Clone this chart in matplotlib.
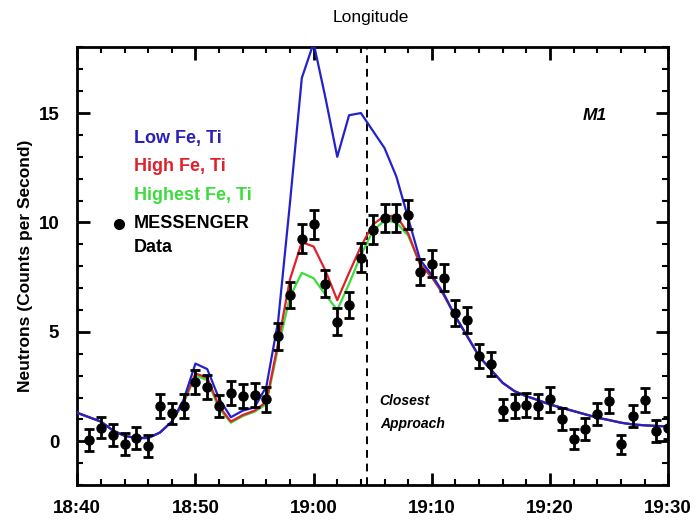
import numpy as np
import matplotlib.pyplot as plt
from matplotlib.ticker import MultipleLocator

plt.rcParams['font.family'] = ['Liberation Sans', 'DejaVu Sans']

# time in minutes after 18:40
t_data = np.arange(1, 51)
counts = [0.05, 0.63, 0.27, -0.12, 0.15, -0.22, 1.61, 1.27, 1.61, 2.72,
          2.49, 1.61, 2.21, 2.09, 2.12, 1.91, 4.79, 6.68, 9.26, 9.91,
          7.21, 5.47, 6.23, 8.39, 9.67, 10.21, 10.21, 10.36, 7.74, 8.12,
          7.48, 5.85, 5.55, 3.90, 3.55, 1.45, 1.61, 1.64, 1.61, 1.91,
          1.03, 0.12, 0.55, 1.23, 1.83, -0.14, 1.15, 1.88, 0.47, 0.60]
errors = [0.5, 0.5, 0.5, 0.5, 0.5, 0.5, 0.55, 0.5, 0.55, 0.55,
          0.55, 0.5, 0.55, 0.55, 0.55, 0.55, 0.6, 0.6, 0.65, 0.65,
          0.6, 0.6, 0.6, 0.65, 0.65, 0.65, 0.65, 0.65, 0.6, 0.6,
          0.6, 0.6, 0.6, 0.55, 0.55, 0.5, 0.55, 0.55, 0.55, 0.55,
          0.5, 0.45, 0.5, 0.5, 0.55, 0.45, 0.5, 0.55, 0.5, 0.5]

t_model = np.arange(0, 51)
low_fe = [1.3, 1.1, 0.9, 0.5, 0.25, 0.15, 0.15, 0.4, 0.9, 1.9,
          3.55, 3.3, 1.95, 1.1, 1.4, 1.55, 2.5, 5.5, 10.9, 16.6,
          18.2, 15.7, 13.0, 14.9, 15.0, 14.2, 13.4, 12.1, 10.2, 8.3,
          7.6, 6.76, 5.7, 4.8, 3.88, 3.27, 2.67, 2.29, 2.06, 1.88,
          1.68, 1.53, 1.38, 1.23, 1.08, 0.97, 0.85, 0.77, 0.73, 0.70, 0.68]
high_fe = [1.3, 1.1, 0.9, 0.5, 0.25, 0.15, 0.15, 0.4, 0.9, 1.8,
           3.1, 2.9, 1.6, 0.9, 1.2, 1.4, 1.8, 4.5, 7.4, 9.1,
           8.9, 7.8, 6.45, 7.7, 8.9, 9.9, 10.3, 10.3, 9.5, 8.1,
           7.5, 6.7, 5.7, 4.8, 3.88, 3.27, 2.67, 2.29, 2.06, 1.88,
           1.68, 1.53, 1.38, 1.23, 1.08, 0.97, 0.85, 0.77, 0.73, 0.70, 0.68]
highest_fe = [1.3, 1.1, 0.9, 0.5, 0.25, 0.15, 0.15, 0.4, 0.9, 1.75,
              3.0, 2.8, 1.5, 0.85, 1.15, 1.35, 1.7, 4.3, 6.6, 7.7,
              7.45, 6.7, 6.0, 7.2, 8.5, 9.6, 10.1, 10.0, 9.4, 8.1,
              7.5, 6.7, 5.7, 4.8, 3.88, 3.27, 2.67, 2.29, 2.06, 1.88,
              1.68, 1.53, 1.38, 1.23, 1.08, 0.97, 0.85, 0.77, 0.73, 0.70, 0.68]

tick_pos = [0, 10, 20, 30, 40, 50]
tick_labels = ['18:40', '18:50', '19:00', '19:10', '19:20', '19:30']
closest_approach = 24.5

blue = '#2222cc'
red = '#e0202a'
green = '#3ddc3d'

fig = plt.figure(figsize=(6.96, 5.21), dpi=100)
ax = fig.add_axes([0.111, 0.069, 0.849, 0.840])

ax.plot(t_model, highest_fe, color=green, lw=1.6, zorder=3)
ax.plot(t_model, high_fe, color=red, lw=1.6, zorder=3)
ax.plot(t_model, low_fe, color=blue, lw=1.6, zorder=4)
ax.errorbar(t_data, counts, yerr=errors, fmt='o', color='black', ms=6.5,
            elinewidth=2, capsize=3.5, capthick=2, zorder=5)

ax.axvline(closest_approach, color='black', ls=(0, (4, 3)), lw=1.4, zorder=2)

ax.set_xlim(0, 50)
ax.set_ylim(-2, 18)
ax.set_xticks(tick_pos)
ax.set_xticklabels(tick_labels)
ax.xaxis.set_minor_locator(MultipleLocator(2))
ax.set_yticks([0, 5, 10, 15])
ax.yaxis.set_minor_locator(MultipleLocator(1))

ax.tick_params(which='both', direction='in', top=True, right=True)
ax.tick_params(which='major', length=9, width=2)
ax.tick_params(which='minor', length=4.5, width=1.5)
ax.tick_params(axis='x', which='major', pad=11, labelsize=13.5)
ax.tick_params(axis='y', which='major', pad=13, labelsize=13.5)
for lbl in ax.get_xticklabels() + ax.get_yticklabels():
    lbl.set_fontweight('bold')
for sp in ax.spines.values():
    sp.set_linewidth(2)

ax.set_ylabel('Neutrons (Counts per Second)', fontsize=12.5, fontweight='bold',
              labelpad=4)
fig.text(0.533, 0.967, 'Longitude', ha='center', va='center', fontsize=12.5)

# legend drawn as coloured text
ax.text(4.8, 13.85, 'Low Fe, Ti', color='#2a20b8', fontsize=13,
        fontweight='bold', va='center')
ax.text(4.8, 12.55, 'High Fe, Ti', color=red, fontsize=13,
        fontweight='bold', va='center')
ax.text(4.8, 11.25, 'Highest Fe, Ti', color=green, fontsize=13,
        fontweight='bold', va='center')
ax.plot([3.5], [9.95], 'o', color='black', ms=7)
ax.text(4.8, 9.95, 'MESSENGER', color='black', fontsize=13,
        fontweight='bold', va='center')
ax.text(4.8, 8.85, 'Data', color='black', fontsize=13,
        fontweight='bold', va='center')

ax.text(42.8, 14.9, 'M1', fontsize=12.5, fontweight='bold', style='italic',
        va='center')
ax.text(25.6, 1.85, 'Closest', fontsize=10, fontweight='bold',
        style='italic', va='center')
ax.text(25.6, 0.8, 'Approach', fontsize=10, fontweight='bold',
        style='italic', va='center')

fig.savefig('out.png', dpi=100)
